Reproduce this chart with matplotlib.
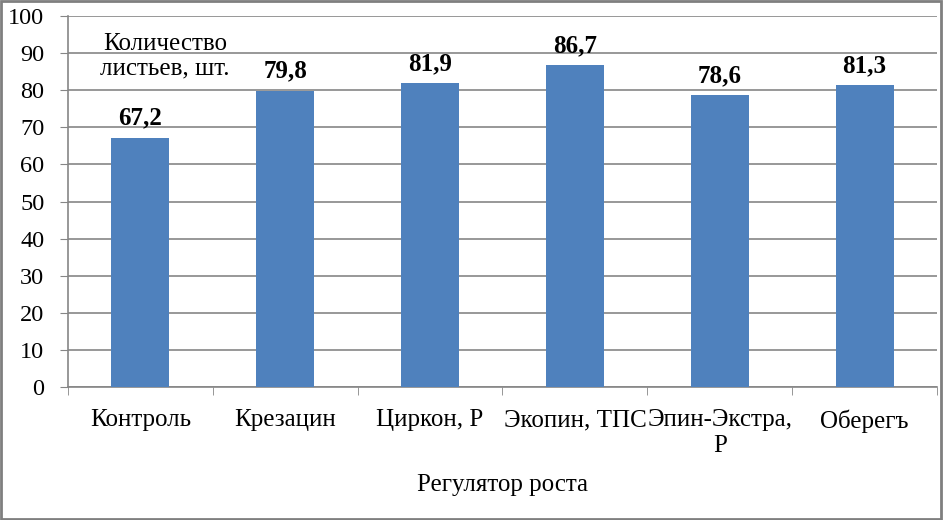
import matplotlib
matplotlib.use("Agg")
import matplotlib.pyplot as plt
from matplotlib.patches import Rectangle

categories = ["Контроль", "Крезацин", "Циркон, Р", "Экопин, ТПС", "Эпин-Экстра,\nР", "Оберегъ"]
values = [67.2, 79.8, 81.9, 86.7, 78.6, 81.3]
value_labels = ["67,2", "79,8", "81,9", "86,7", "78,6", "81,3"]
y_ticks = list(range(0, 101, 10))

plt.rcParams["font.family"] = ["Liberation Serif", "DejaVu Serif"]

fig = plt.figure(figsize=(9.43, 5.2), dpi=100)
ax = fig.add_axes([0.0721, 0.2558, 0.9215, 0.7132])

x = list(range(len(categories)))
ax.bar(x, values, width=0.4, color="#4F81BD", zorder=3)

# подписи значений
for xi, v, lab in zip(x, values, value_labels):
    ax.annotate(lab, (xi, v), xytext=(0, 6), textcoords="offset points",
                ha="center", va="bottom", fontsize=18, fontweight="bold")

ax.set_xlim(-0.5, len(categories) - 0.5)
ax.set_ylim(0, 100)
ax.set_yticks(y_ticks)
ax.tick_params(axis="y", labelsize=17.5, length=6, color="#868686", pad=11)

ax.set_xticks(x)
ax.set_xticklabels(categories, fontsize=18, linespacing=1.25)
ax.tick_params(axis="x", length=0, pad=16)
ax.set_xticks([i - 0.5 for i in range(len(categories) + 1)], minor=True)
ax.tick_params(axis="x", which="minor", length=6, color="#868686")

ax.grid(axis="y", color="#868686", linewidth=1.2, zorder=0)
for s in ["top", "right"]:
    ax.spines[s].set_visible(False)
for s in ["left", "bottom"]:
    ax.spines[s].set_color("#868686")
    ax.spines[s].set_linewidth(1.2)

ax.text(0.17, 89.2, "Количество\nлистьев, шт.", ha="center", va="center",
        fontsize=18, linespacing=1.15)
ax.set_xlabel("Регулятор роста", fontsize=18, labelpad=12)

fig.patches.append(Rectangle((0.001, 0.002), 0.997, 0.996, transform=fig.transFigure,
                             fill=False, edgecolor="#7f7f7f", linewidth=2))

fig.savefig("out.png", dpi=100)
